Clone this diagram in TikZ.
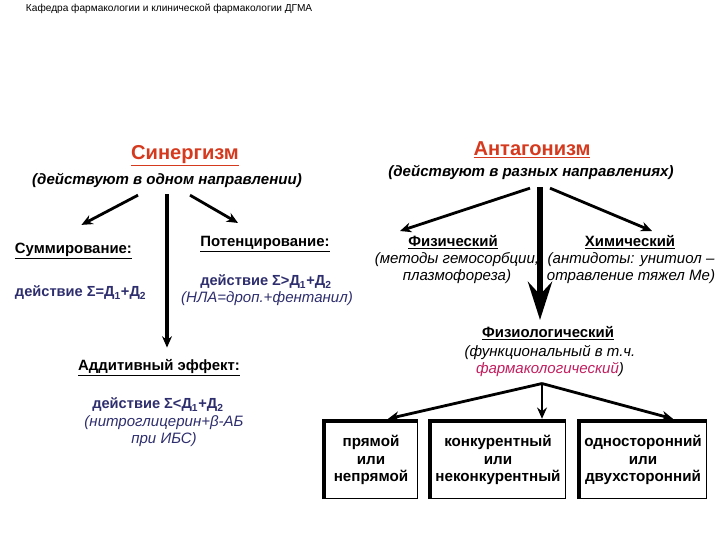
\documentclass[tikz,border=0pt]{standalone}
\usepackage{fontspec}
\setmainfont{Liberation Sans}
\usetikzlibrary{shapes,arrows,arrows.meta,positioning,calc}
\definecolor{titlered}{HTML}{D63A1E}
\definecolor{navy}{HTML}{2E2E6E}
\definecolor{pharm}{HTML}{C21E5E}

\begin{document}
\begin{tikzpicture}[x=0.025cm,y=-0.025cm,
    title/.style={font=\fontsize{14.3}{16}\selectfont\bfseries, text=titlered},
    note/.style={font=\fontsize{10.7}{12}\selectfont\bfseries\itshape},
    head/.style={font=\fontsize{10.6}{12}\selectfont\bfseries},
    formula/.style={font=\fontsize{10.4}{12}\selectfont\bfseries, text=navy},
    example/.style={font=\fontsize{10.7}{12}\selectfont\itshape, align=center},
    arr/.style={-{Stealth[length=8pt,width=7pt]}, line width=2pt},
    kind/.style={draw, line width=1pt, minimum height=1.925cm, align=center,
        font=\fontsize{10.8}{12.5}\selectfont\bfseries}
]
    \useasboundingbox (0,0) rectangle (720,540);

    % Header
    \node[anchor=west, font=\fontsize{7.2}{9}\selectfont] (hdr) at (21,9)
        {Кафедра фармакологии и клинической фармакологии ДГМА};

    % Synergism
    \node[title] (syn) at (185,156) {\underline{Синергизм}};
    \node[note] (synnote) at (167,180) {(действуют в одном направлении)};
    \node[head, anchor=west] (summ) at (10,251) {\underline{Суммирование:}};
    \node[formula, anchor=west] (summf) at (10,293) {действие Σ=Д\textsubscript{1}+Д\textsubscript{2}};
    \node[head] (pot) at (265,244) {\underline{Потенцирование:}};
    \node[formula] (potf) at (266,282) {действие Σ>Д\textsubscript{1}+Д\textsubscript{2}};
    \node[example, text=navy] (potex) at (267,299) {(НЛА=дроп.+фентанил)};
    \node[head] (add) at (159,368) {\underline{Аддитивный эффект:}};
    \node[formula] (addf) at (158,405) {действие Σ<Д\textsubscript{1}+Д\textsubscript{2}};
    \node[example, text=navy] (addex) at (164,431) {(нитроглицерин+β-АБ\\при ИБС)};

    \draw[arr] ($(synnote.south)+(-29,3)$) -- ($(summ.north)+(8,-13)$);
    \draw[arr] ($(synnote.south)+(23,3)$) -- ($(pot.north)+(-27,-8)$);
    \draw[arr, line width=3pt] ($(synnote.south)+(0,2)$) -- ($(add.north)+(8,-7)$);

    % Antagonism
    \node[title] (ant) at (532,150) {\underline{Антагонизм}};
    \node[note] (antnote) at (531,172) {(действуют в разных направлениях)};
    \node[head] (fiz) at (453,242) {\underline{Физический}};
    \node[example] (fizex) at (457,268) {(методы гемосорбции,\\плазмофореза)};
    \node[head] (him) at (630,242) {\underline{Химический}};
    \node[example] (himex) at (631,268) {(антидоты: унитиол –\\отравление тяжел Ме)};
    \node[head] (phys) at (548,333) {\underline{Физиологический}};
    \node[example] (physex) at (550,361) {(функциональный в т.ч.\\\textcolor{pharm}{фармакологический})};

    \draw[arr] ($(antnote.south)+(-1,4)$) -- ($(fiz.north)+(-53,1)$);
    \draw[arr] ($(antnote.south)+(19,4)$) -- ($(him.north)+(22,1)$);
    \draw[-{Stealth[length=27pt,width=17pt,inset=9pt]}, line width=4.5pt]
        ($(antnote.south)+(9,3)$) -- ($(phys.north)+(-8,-1)$);

    % Kinds of physiological antagonism
    \node[kind, minimum width=2.325cm] (b1) at (371,460) {прямой\\или\\непрямой};
    \node[kind, minimum width=3.325cm] (b2) at (498,460) {конкурентный\\или\\неконкурентный};
    \node[kind, minimum width=3.15cm] (b3) at (643,460) {односторонний\\или\\двухсторонний};
    \foreach \b in {b1,b2,b3}
        \draw[line width=3pt] (\b.south west) -- (\b.north west) -- (\b.north east);

    \coordinate (pf) at ($(physex.south)+(-8,2)$);
    \draw[arr] (pf) -- ($(b1.north)+(17,-2)$);
    \draw[arr] (pf) -- ($(b2.north)+(44,-2)$);
    \draw[arr] (pf) -- ($(b3.north)+(30,-2)$);
\end{tikzpicture}
\end{document}
